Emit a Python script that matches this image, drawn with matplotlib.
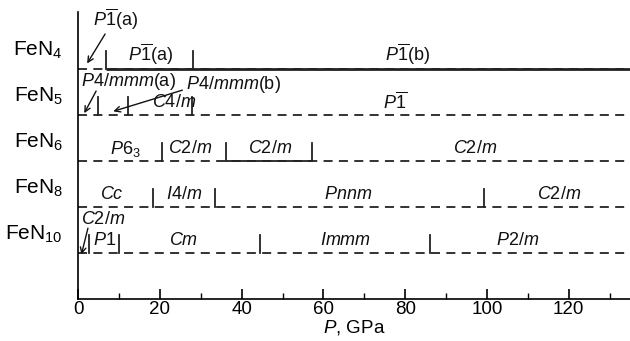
import matplotlib
matplotlib.use("Agg")
import matplotlib.pyplot as plt
from matplotlib.ticker import MultipleLocator

plt.rcParams['font.family'] = ['Liberation Sans', 'DejaVu Sans']
plt.rcParams['mathtext.fontset'] = 'custom'
plt.rcParams['mathtext.rm'] = 'Liberation Sans'
plt.rcParams['mathtext.it'] = 'Liberation Sans:italic'
plt.rcParams['mathtext.bf'] = 'Liberation Sans:bold'

# ---- data ----
compounds = ['FeN$_4$', 'FeN$_5$', 'FeN$_6$', 'FeN$_8$', 'FeN$_{10}$']
rows = [5, 4, 3, 2, 1]
p_max = 135

# transition pressures (GPa) for each compound
transitions = {
    'FeN$_4$': [6.9, 28.2],
    'FeN$_5$': [4.8, 12.3, 27.9],
    'FeN$_6$': [20.6, 36.2, 57.3],
    'FeN$_8$': [18.4, 33.6, 99.2],
    'FeN$_{10}$': [2.7, 10.1, 44.4, 86.0],
}
# solid segments (start, end) in GPa
solid_segments = {
    'FeN$_4$': [(6.9, 135)],
    'FeN$_6$': [(36.2, 57.3)],
}
# phase labels placed on the line: (pressure, text)
phase_labels = {
    'FeN$_4$': [(17.6, r'$\mathit{P}\overline{1}$(a)'), (80.6, r'$\mathit{P}\overline{1}$(b)')],
    'FeN$_5$': [(23.5, r'$\mathit{C4/m}$'), (77.5, r'$\mathit{P}\overline{1}$')],
    'FeN$_6$': [(11.5, r'$\mathit{P}6_3$'), (27.5, r'$\mathit{C2/m}$'), (47.0, r'$\mathit{C2/m}$'),
                (97.0, r'$\mathit{C2/m}$')],
    'FeN$_8$': [(8.3, r'$\mathit{Cc}$'), (26.0, r'$\mathit{I4/m}$'), (66.0, r'$\mathit{Pnnm}$'),
                (117.6, r'$\mathit{C2/m}$')],
    'FeN$_{10}$': [(6.5, r'$\mathit{P1}$'), (25.7, r'$\mathit{Cm}$'), (65.4, r'$\mathit{Immm}$'),
                   (107.6, r'$\mathit{P2/m}$')],
}
# labels with arrows: (text, text pressure, text y, arrow start p, start y, arrow tip p, tip y)
arrow_labels = [
    (r'$\mathit{P}\overline{1}$(a)', 9.1, 6.07, 6.6, 5.76, 2.2, 5.12),
    (r'$\mathit{P4/mmm}$(a)', 12.3, 4.72, 4.4, 4.52, 1.5, 4.04),
    (r'$\mathit{P4/mmm}$(b)', 38.0, 4.66, 25.5, 4.54, 8.6, 4.08),
    (r'$\mathit{C2/m}$', 6.2, 1.72, 2.4, 1.54, 0.8, 0.97),
]
xticks = [0, 20, 40, 60, 80, 100, 120]

# ---- plot ----
fig = plt.figure(figsize=(6.30, 3.41), dpi=100)
ax = fig.add_axes([0.124, 0.123, 0.876, 0.842])
ax.set_xlim(0, p_max)
ax.set_ylim(0, 6.24)

lw = 1.3
tick_h = 0.4
for name, r in zip(compounds, rows):
    ax.plot([0, p_max], [r, r], color='#222222', lw=lw, ls=(0, (5, 3.5)), solid_capstyle='butt')
    for s, e in solid_segments.get(name, []):
        ax.plot([s, e], [r, r], color='#222222', lw=2.0 if name == 'FeN$_4$' else lw,
                solid_capstyle='butt')
    for p in transitions[name]:
        ax.plot([p, p], [r, r + tick_h], color='#222222', lw=lw)
    dy = 0.32 if name == 'FeN$_4$' else 0.27
    for p, t in phase_labels[name]:
        ax.text(p, r + dy, t, ha='center', va='center', fontsize=13, color='#111111')

for t, tx, ty, sx, sy, ex, ey in arrow_labels:
    ax.text(tx, ty, t, ha='center', va='center', fontsize=13, color='#111111')
    ax.annotate('', xy=(ex, ey), xytext=(sx, sy),
                arrowprops=dict(arrowstyle='->', lw=1.0, color='#111111',
                                shrinkA=0, shrinkB=0))

ax.spines['top'].set_visible(False)
ax.spines['right'].set_visible(False)
ax.spines['left'].set_linewidth(1.2)
ax.spines['bottom'].set_linewidth(1.2)
ax.set_yticks([r + 0.46 for r in rows])
ax.set_yticklabels(compounds, fontsize=15)
ax.tick_params(axis='y', length=0, pad=11)
ax.set_xticks(xticks)
ax.xaxis.set_minor_locator(MultipleLocator(10))
ax.tick_params(axis='x', which='major', direction='in', length=7, width=1.2, labelsize=13.5, pad=1.5)
ax.tick_params(axis='x', which='minor', direction='in', length=4, width=1.0)
ax.set_xlabel(r'$\mathit{P}$, GPa', fontsize=13.5, labelpad=0)

fig.savefig('out.png', dpi=100)
